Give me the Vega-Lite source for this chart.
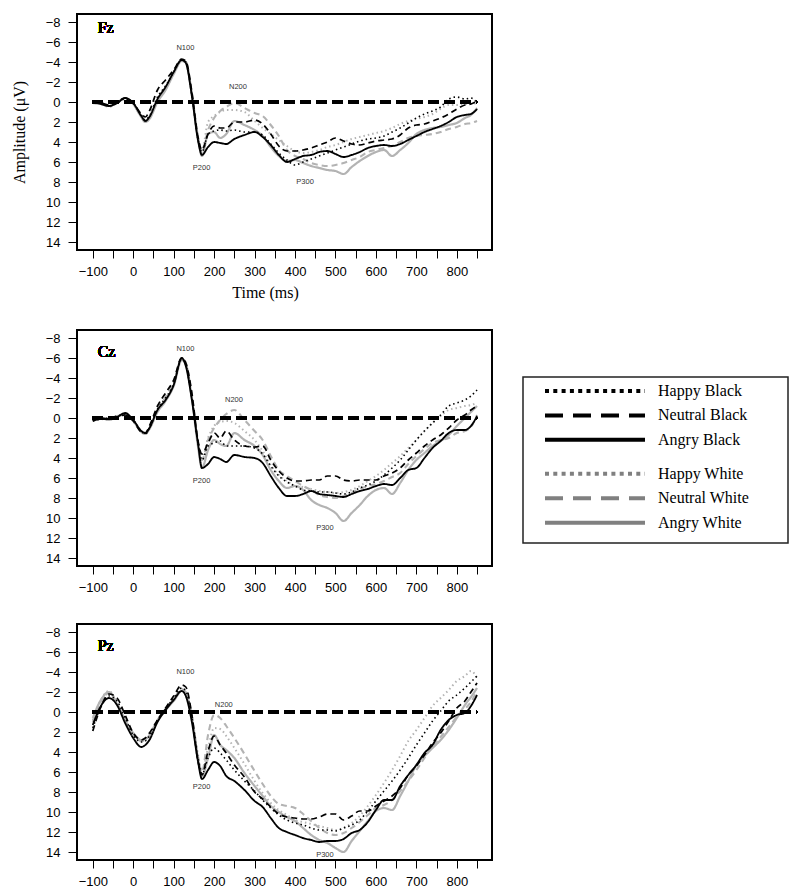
{
"$schema":"https://vega.github.io/schema/vega-lite/v6.json",
"background":"white",
"padding":{"left":10,"top":13,"right":5,"bottom":5},
"config":{
"view":{"stroke":"#000","strokeWidth":2},
"axis":{"domain":false,"grid":false,"tickColor":"#000","tickWidth":1,"labelFont":"Liberation Sans","labelFontSize":13,"labelColor":"#000","titleFont":"Liberation Serif","titleFontSize":16,"titleFontWeight":"normal","titleColor":"#000"},
"axisX":{"tickSize":8,"labelPadding":7},
"axisY":{"tickSize":9,"labelPadding":8}
},
"datasets":{
"Fz":[
{"c":"HW","t":-100,"v":0},{"c":"HW","t":-80,"v":0.2},{"c":"HW","t":-60,"v":0.5},{"c":"HW","t":-40,"v":0.1},{"c":"HW","t":-20,"v":-0.4},{"c":"HW","t":0,"v":0.2},{"c":"HW","t":20,"v":1.4},{"c":"HW","t":30,"v":1.9},{"c":"HW","t":40,"v":1.6},{"c":"HW","t":60,"v":-0.2},{"c":"HW","t":80,"v":-1.3},{"c":"HW","t":100,"v":-2.9},{"c":"HW","t":120,"v":-4.1},{"c":"HW","t":130,"v":-3.9},{"c":"HW","t":145,"v":-0.6},{"c":"HW","t":160,"v":3.4},{"c":"HW","t":170,"v":4.8},{"c":"HW","t":185,"v":2.0},{"c":"HW","t":200,"v":1.4},{"c":"HW","t":215,"v":1.0},{"c":"HW","t":230,"v":0.8},{"c":"HW","t":250,"v":0.8},{"c":"HW","t":275,"v":1.0},{"c":"HW","t":300,"v":1.9},{"c":"HW","t":320,"v":2.6},{"c":"HW","t":340,"v":3.2},{"c":"HW","t":360,"v":3.8},{"c":"HW","t":380,"v":4.4},{"c":"HW","t":400,"v":4.9},{"c":"HW","t":420,"v":5.1},{"c":"HW","t":440,"v":5.0},{"c":"HW","t":460,"v":4.8},{"c":"HW","t":480,"v":4.5},{"c":"HW","t":500,"v":4.3},{"c":"HW","t":520,"v":4.0},{"c":"HW","t":540,"v":3.7},{"c":"HW","t":560,"v":3.5},{"c":"HW","t":580,"v":3.3},{"c":"HW","t":600,"v":3.1},{"c":"HW","t":620,"v":2.9},{"c":"HW","t":640,"v":2.6},{"c":"HW","t":660,"v":2.2},{"c":"HW","t":680,"v":1.9},{"c":"HW","t":700,"v":1.7},{"c":"HW","t":720,"v":1.5},{"c":"HW","t":740,"v":1.2},{"c":"HW","t":760,"v":0.7},{"c":"HW","t":780,"v":0.3},{"c":"HW","t":800,"v":0.3},{"c":"HW","t":820,"v":0.2},{"c":"HW","t":835,"v":0.2},{"c":"HW","t":850,"v":0.1},
{"c":"NW","t":-100,"v":0.1},{"c":"NW","t":-80,"v":0.2},{"c":"NW","t":-60,"v":0.4},{"c":"NW","t":-40,"v":0.1},{"c":"NW","t":-20,"v":-0.4},{"c":"NW","t":0,"v":0.2},{"c":"NW","t":20,"v":1.5},{"c":"NW","t":30,"v":2.0},{"c":"NW","t":40,"v":1.6},{"c":"NW","t":60,"v":-0.2},{"c":"NW","t":80,"v":-1.3},{"c":"NW","t":100,"v":-2.9},{"c":"NW","t":120,"v":-4.2},{"c":"NW","t":130,"v":-4.0},{"c":"NW","t":145,"v":-0.7},{"c":"NW","t":160,"v":3.6},{"c":"NW","t":170,"v":5.0},{"c":"NW","t":185,"v":2.8},{"c":"NW","t":200,"v":1.6},{"c":"NW","t":215,"v":0.9},{"c":"NW","t":230,"v":0.5},{"c":"NW","t":250,"v":0.1},{"c":"NW","t":275,"v":0.6},{"c":"NW","t":300,"v":1.1},{"c":"NW","t":320,"v":1.4},{"c":"NW","t":340,"v":2.3},{"c":"NW","t":360,"v":3.4},{"c":"NW","t":380,"v":4.8},{"c":"NW","t":400,"v":5.4},{"c":"NW","t":420,"v":5.7},{"c":"NW","t":440,"v":6.1},{"c":"NW","t":460,"v":6.3},{"c":"NW","t":480,"v":6.4},{"c":"NW","t":500,"v":6.3},{"c":"NW","t":520,"v":6.1},{"c":"NW","t":540,"v":5.8},{"c":"NW","t":560,"v":5.5},{"c":"NW","t":580,"v":5.0},{"c":"NW","t":600,"v":4.8},{"c":"NW","t":620,"v":4.6},{"c":"NW","t":640,"v":4.4},{"c":"NW","t":660,"v":4.0},{"c":"NW","t":680,"v":3.6},{"c":"NW","t":700,"v":3.4},{"c":"NW","t":720,"v":3.3},{"c":"NW","t":740,"v":3.2},{"c":"NW","t":760,"v":3.0},{"c":"NW","t":780,"v":2.7},{"c":"NW","t":800,"v":2.5},{"c":"NW","t":820,"v":2.2},{"c":"NW","t":835,"v":2.1},{"c":"NW","t":850,"v":1.9},
{"c":"AW","t":-100,"v":0.1},{"c":"AW","t":-80,"v":0.2},{"c":"AW","t":-60,"v":0.4},{"c":"AW","t":-40,"v":0.1},{"c":"AW","t":-20,"v":-0.4},{"c":"AW","t":0,"v":0.2},{"c":"AW","t":20,"v":1.5},{"c":"AW","t":30,"v":2.0},{"c":"AW","t":40,"v":1.7},{"c":"AW","t":60,"v":0.0},{"c":"AW","t":80,"v":-1.2},{"c":"AW","t":100,"v":-2.8},{"c":"AW","t":120,"v":-4.1},{"c":"AW","t":130,"v":-4.0},{"c":"AW","t":145,"v":-0.8},{"c":"AW","t":160,"v":3.5},{"c":"AW","t":170,"v":5.4},{"c":"AW","t":185,"v":3.2},{"c":"AW","t":200,"v":3.0},{"c":"AW","t":215,"v":3.6},{"c":"AW","t":230,"v":3.2},{"c":"AW","t":250,"v":1.9},{"c":"AW","t":275,"v":2.3},{"c":"AW","t":300,"v":2.8},{"c":"AW","t":320,"v":3.4},{"c":"AW","t":340,"v":4.5},{"c":"AW","t":360,"v":5.4},{"c":"AW","t":380,"v":5.9},{"c":"AW","t":400,"v":5.8},{"c":"AW","t":420,"v":6.1},{"c":"AW","t":440,"v":6.4},{"c":"AW","t":460,"v":6.6},{"c":"AW","t":480,"v":6.8},{"c":"AW","t":500,"v":6.9},{"c":"AW","t":520,"v":7.2},{"c":"AW","t":540,"v":6.5},{"c":"AW","t":560,"v":5.9},{"c":"AW","t":580,"v":5.4},{"c":"AW","t":600,"v":5.0},{"c":"AW","t":620,"v":4.8},{"c":"AW","t":640,"v":5.4},{"c":"AW","t":660,"v":4.8},{"c":"AW","t":680,"v":4.1},{"c":"AW","t":700,"v":3.2},{"c":"AW","t":720,"v":2.8},{"c":"AW","t":740,"v":2.6},{"c":"AW","t":760,"v":2.5},{"c":"AW","t":780,"v":2.3},{"c":"AW","t":800,"v":2.1},{"c":"AW","t":820,"v":1.6},{"c":"AW","t":835,"v":1.3},{"c":"AW","t":850,"v":0.6},
{"c":"HB","t":-100,"v":0.1},{"c":"HB","t":-80,"v":0.1},{"c":"HB","t":-60,"v":0.4},{"c":"HB","t":-40,"v":0.1},{"c":"HB","t":-20,"v":-0.3},{"c":"HB","t":0,"v":0.1},{"c":"HB","t":20,"v":1.3},{"c":"HB","t":30,"v":1.8},{"c":"HB","t":40,"v":1.4},{"c":"HB","t":60,"v":-0.5},{"c":"HB","t":80,"v":-1.6},{"c":"HB","t":100,"v":-3.0},{"c":"HB","t":120,"v":-4.2},{"c":"HB","t":130,"v":-4.0},{"c":"HB","t":145,"v":-0.7},{"c":"HB","t":160,"v":3.7},{"c":"HB","t":170,"v":5.0},{"c":"HB","t":185,"v":3.2},{"c":"HB","t":200,"v":2.9},{"c":"HB","t":215,"v":2.8},{"c":"HB","t":230,"v":2.9},{"c":"HB","t":250,"v":2.8},{"c":"HB","t":275,"v":3.0},{"c":"HB","t":300,"v":3.0},{"c":"HB","t":320,"v":3.3},{"c":"HB","t":340,"v":4.2},{"c":"HB","t":360,"v":5.1},{"c":"HB","t":380,"v":5.8},{"c":"HB","t":400,"v":6.3},{"c":"HB","t":420,"v":6.0},{"c":"HB","t":440,"v":5.7},{"c":"HB","t":460,"v":5.4},{"c":"HB","t":480,"v":5.1},{"c":"HB","t":500,"v":4.8},{"c":"HB","t":520,"v":4.5},{"c":"HB","t":540,"v":4.2},{"c":"HB","t":560,"v":3.9},{"c":"HB","t":580,"v":3.7},{"c":"HB","t":600,"v":3.6},{"c":"HB","t":620,"v":3.4},{"c":"HB","t":640,"v":3.0},{"c":"HB","t":660,"v":2.6},{"c":"HB","t":680,"v":2.1},{"c":"HB","t":700,"v":1.6},{"c":"HB","t":720,"v":1.2},{"c":"HB","t":740,"v":0.9},{"c":"HB","t":760,"v":0.5},{"c":"HB","t":780,"v":-0.3},{"c":"HB","t":800,"v":-0.5},{"c":"HB","t":820,"v":-0.3},{"c":"HB","t":835,"v":-0.4},{"c":"HB","t":850,"v":0.1},
{"c":"NB","t":-100,"v":0},{"c":"NB","t":-80,"v":0.1},{"c":"NB","t":-60,"v":0.3},{"c":"NB","t":-40,"v":0},{"c":"NB","t":-20,"v":-0.4},{"c":"NB","t":0,"v":0.1},{"c":"NB","t":20,"v":1.2},{"c":"NB","t":30,"v":1.5},{"c":"NB","t":40,"v":0.9},{"c":"NB","t":60,"v":-1.2},{"c":"NB","t":80,"v":-2.2},{"c":"NB","t":100,"v":-3.2},{"c":"NB","t":120,"v":-4.3},{"c":"NB","t":130,"v":-4.1},{"c":"NB","t":145,"v":-1.0},{"c":"NB","t":160,"v":3.5},{"c":"NB","t":170,"v":4.8},{"c":"NB","t":185,"v":3.2},{"c":"NB","t":200,"v":2.4},{"c":"NB","t":215,"v":2.6},{"c":"NB","t":230,"v":2.6},{"c":"NB","t":250,"v":2.0},{"c":"NB","t":275,"v":2.0},{"c":"NB","t":300,"v":1.8},{"c":"NB","t":320,"v":2.2},{"c":"NB","t":340,"v":3.2},{"c":"NB","t":360,"v":4.4},{"c":"NB","t":380,"v":4.9},{"c":"NB","t":400,"v":4.9},{"c":"NB","t":420,"v":4.8},{"c":"NB","t":440,"v":4.6},{"c":"NB","t":460,"v":4.3},{"c":"NB","t":480,"v":4.0},{"c":"NB","t":500,"v":3.6},{"c":"NB","t":520,"v":3.9},{"c":"NB","t":540,"v":4.2},{"c":"NB","t":560,"v":4.3},{"c":"NB","t":580,"v":4.1},{"c":"NB","t":600,"v":3.9},{"c":"NB","t":620,"v":3.8},{"c":"NB","t":640,"v":3.7},{"c":"NB","t":660,"v":3.3},{"c":"NB","t":680,"v":2.6},{"c":"NB","t":700,"v":2.3},{"c":"NB","t":720,"v":2.2},{"c":"NB","t":740,"v":1.9},{"c":"NB","t":760,"v":1.6},{"c":"NB","t":780,"v":1.2},{"c":"NB","t":800,"v":0.7},{"c":"NB","t":820,"v":0.3},{"c":"NB","t":835,"v":0.2},{"c":"NB","t":850,"v":-0.1},
{"c":"AB","t":-100,"v":0},{"c":"AB","t":-80,"v":0.2},{"c":"AB","t":-60,"v":0.4},{"c":"AB","t":-40,"v":0.1},{"c":"AB","t":-20,"v":-0.4},{"c":"AB","t":0,"v":0.1},{"c":"AB","t":20,"v":1.4},{"c":"AB","t":30,"v":1.9},{"c":"AB","t":40,"v":1.5},{"c":"AB","t":60,"v":-0.3},{"c":"AB","t":80,"v":-1.5},{"c":"AB","t":100,"v":-3.0},{"c":"AB","t":120,"v":-4.2},{"c":"AB","t":130,"v":-3.9},{"c":"AB","t":145,"v":-0.6},{"c":"AB","t":160,"v":3.8},{"c":"AB","t":170,"v":5.3},{"c":"AB","t":185,"v":4.5},{"c":"AB","t":200,"v":4.0},{"c":"AB","t":215,"v":4.1},{"c":"AB","t":230,"v":4.2},{"c":"AB","t":250,"v":3.7},{"c":"AB","t":275,"v":3.3},{"c":"AB","t":300,"v":3.0},{"c":"AB","t":320,"v":3.5},{"c":"AB","t":340,"v":4.3},{"c":"AB","t":360,"v":5.3},{"c":"AB","t":380,"v":6.0},{"c":"AB","t":400,"v":5.7},{"c":"AB","t":420,"v":5.4},{"c":"AB","t":440,"v":5.3},{"c":"AB","t":460,"v":5.0},{"c":"AB","t":480,"v":4.9},{"c":"AB","t":500,"v":5.2},{"c":"AB","t":520,"v":5.5},{"c":"AB","t":540,"v":5.3},{"c":"AB","t":560,"v":5.0},{"c":"AB","t":580,"v":4.6},{"c":"AB","t":600,"v":4.4},{"c":"AB","t":620,"v":4.3},{"c":"AB","t":640,"v":4.4},{"c":"AB","t":660,"v":4.2},{"c":"AB","t":680,"v":3.8},{"c":"AB","t":700,"v":3.4},{"c":"AB","t":720,"v":3.0},{"c":"AB","t":740,"v":2.7},{"c":"AB","t":760,"v":2.4},{"c":"AB","t":780,"v":2.0},{"c":"AB","t":800,"v":1.5},{"c":"AB","t":820,"v":1.3},{"c":"AB","t":835,"v":1.2},{"c":"AB","t":850,"v":0.7}
],
"Cz":[
{"c":"HW","t":-100,"v":0.2},{"c":"HW","t":-80,"v":0.1},{"c":"HW","t":-60,"v":0.2},{"c":"HW","t":-40,"v":-0.1},{"c":"HW","t":-20,"v":-0.3},{"c":"HW","t":0,"v":0.3},{"c":"HW","t":20,"v":1.4},{"c":"HW","t":30,"v":1.6},{"c":"HW","t":40,"v":1.1},{"c":"HW","t":60,"v":-0.7},{"c":"HW","t":80,"v":-1.8},{"c":"HW","t":100,"v":-3.3},{"c":"HW","t":120,"v":-5.9},{"c":"HW","t":130,"v":-5.4},{"c":"HW","t":145,"v":-2.0},{"c":"HW","t":160,"v":2.2},{"c":"HW","t":170,"v":4.0},{"c":"HW","t":185,"v":2.0},{"c":"HW","t":200,"v":0.8},{"c":"HW","t":215,"v":0.4},{"c":"HW","t":230,"v":0.3},{"c":"HW","t":250,"v":0.5},{"c":"HW","t":275,"v":1.3},{"c":"HW","t":300,"v":2.2},{"c":"HW","t":320,"v":3.3},{"c":"HW","t":340,"v":4.7},{"c":"HW","t":360,"v":5.7},{"c":"HW","t":380,"v":6.3},{"c":"HW","t":400,"v":6.8},{"c":"HW","t":420,"v":6.9},{"c":"HW","t":440,"v":7.1},{"c":"HW","t":460,"v":7.3},{"c":"HW","t":480,"v":7.4},{"c":"HW","t":500,"v":7.5},{"c":"HW","t":520,"v":7.4},{"c":"HW","t":540,"v":7.2},{"c":"HW","t":560,"v":6.8},{"c":"HW","t":580,"v":6.3},{"c":"HW","t":600,"v":5.8},{"c":"HW","t":620,"v":5.2},{"c":"HW","t":640,"v":4.5},{"c":"HW","t":660,"v":3.8},{"c":"HW","t":680,"v":3.0},{"c":"HW","t":700,"v":2.2},{"c":"HW","t":720,"v":1.3},{"c":"HW","t":740,"v":0.5},{"c":"HW","t":760,"v":-0.2},{"c":"HW","t":780,"v":-0.8},{"c":"HW","t":800,"v":-1.0},{"c":"HW","t":820,"v":-1.2},{"c":"HW","t":835,"v":-1.3},{"c":"HW","t":850,"v":-1.5},
{"c":"NW","t":-100,"v":0.1},{"c":"NW","t":-80,"v":0.0},{"c":"NW","t":-60,"v":0.1},{"c":"NW","t":-40,"v":-0.1},{"c":"NW","t":-20,"v":-0.4},{"c":"NW","t":0,"v":0.2},{"c":"NW","t":20,"v":1.3},{"c":"NW","t":30,"v":1.5},{"c":"NW","t":40,"v":1.0},{"c":"NW","t":60,"v":-0.9},{"c":"NW","t":80,"v":-2.1},{"c":"NW","t":100,"v":-3.6},{"c":"NW","t":120,"v":-6.0},{"c":"NW","t":130,"v":-5.5},{"c":"NW","t":145,"v":-2.2},{"c":"NW","t":160,"v":2.3},{"c":"NW","t":170,"v":4.2},{"c":"NW","t":185,"v":2.2},{"c":"NW","t":200,"v":1.0},{"c":"NW","t":215,"v":0.2},{"c":"NW","t":230,"v":-0.4},{"c":"NW","t":250,"v":-0.8},{"c":"NW","t":275,"v":0.2},{"c":"NW","t":300,"v":1.3},{"c":"NW","t":320,"v":2.2},{"c":"NW","t":340,"v":3.8},{"c":"NW","t":360,"v":5.2},{"c":"NW","t":380,"v":5.8},{"c":"NW","t":400,"v":6.3},{"c":"NW","t":420,"v":6.8},{"c":"NW","t":440,"v":7.2},{"c":"NW","t":460,"v":7.7},{"c":"NW","t":480,"v":7.9},{"c":"NW","t":500,"v":8.0},{"c":"NW","t":520,"v":7.8},{"c":"NW","t":540,"v":7.5},{"c":"NW","t":560,"v":7.1},{"c":"NW","t":580,"v":6.8},{"c":"NW","t":600,"v":6.6},{"c":"NW","t":620,"v":6.3},{"c":"NW","t":640,"v":5.9},{"c":"NW","t":660,"v":5.5},{"c":"NW","t":680,"v":4.6},{"c":"NW","t":700,"v":3.8},{"c":"NW","t":720,"v":3.1},{"c":"NW","t":740,"v":2.5},{"c":"NW","t":760,"v":2.2},{"c":"NW","t":780,"v":2.0},{"c":"NW","t":800,"v":1.5},{"c":"NW","t":820,"v":1.3},{"c":"NW","t":835,"v":0.9},{"c":"NW","t":850,"v":-0.3},
{"c":"AW","t":-100,"v":0.2},{"c":"AW","t":-80,"v":0.0},{"c":"AW","t":-60,"v":0.2},{"c":"AW","t":-40,"v":-0.2},{"c":"AW","t":-20,"v":-0.3},{"c":"AW","t":0,"v":0.3},{"c":"AW","t":20,"v":1.4},{"c":"AW","t":30,"v":1.6},{"c":"AW","t":40,"v":1.1},{"c":"AW","t":60,"v":-0.6},{"c":"AW","t":80,"v":-1.7},{"c":"AW","t":100,"v":-3.2},{"c":"AW","t":120,"v":-5.8},{"c":"AW","t":130,"v":-5.4},{"c":"AW","t":145,"v":-2.0},{"c":"AW","t":160,"v":2.8},{"c":"AW","t":170,"v":5.0},{"c":"AW","t":185,"v":3.2},{"c":"AW","t":200,"v":2.2},{"c":"AW","t":215,"v":2.6},{"c":"AW","t":230,"v":2.8},{"c":"AW","t":250,"v":1.5},{"c":"AW","t":275,"v":2.2},{"c":"AW","t":300,"v":2.8},{"c":"AW","t":320,"v":3.7},{"c":"AW","t":340,"v":5.2},{"c":"AW","t":360,"v":6.3},{"c":"AW","t":380,"v":7.0},{"c":"AW","t":400,"v":6.8},{"c":"AW","t":420,"v":7.2},{"c":"AW","t":440,"v":8.2},{"c":"AW","t":460,"v":8.7},{"c":"AW","t":480,"v":9.0},{"c":"AW","t":500,"v":9.5},{"c":"AW","t":520,"v":10.3},{"c":"AW","t":540,"v":9.5},{"c":"AW","t":560,"v":8.7},{"c":"AW","t":580,"v":7.8},{"c":"AW","t":600,"v":7.2},{"c":"AW","t":620,"v":7.0},{"c":"AW","t":640,"v":7.6},{"c":"AW","t":660,"v":6.5},{"c":"AW","t":680,"v":5.2},{"c":"AW","t":700,"v":4.2},{"c":"AW","t":720,"v":3.5},{"c":"AW","t":740,"v":2.8},{"c":"AW","t":760,"v":2.3},{"c":"AW","t":780,"v":1.7},{"c":"AW","t":800,"v":0.8},{"c":"AW","t":820,"v":0.0},{"c":"AW","t":835,"v":-0.6},{"c":"AW","t":850,"v":-1.2},
{"c":"HB","t":-100,"v":0.3},{"c":"HB","t":-80,"v":0.1},{"c":"HB","t":-60,"v":0.0},{"c":"HB","t":-40,"v":-0.2},{"c":"HB","t":-20,"v":-0.4},{"c":"HB","t":0,"v":0.2},{"c":"HB","t":20,"v":1.3},{"c":"HB","t":30,"v":1.6},{"c":"HB","t":40,"v":1.0},{"c":"HB","t":60,"v":-0.9},{"c":"HB","t":80,"v":-2.0},{"c":"HB","t":100,"v":-3.4},{"c":"HB","t":120,"v":-5.9},{"c":"HB","t":130,"v":-5.3},{"c":"HB","t":145,"v":-2.0},{"c":"HB","t":160,"v":2.4},{"c":"HB","t":170,"v":4.2},{"c":"HB","t":185,"v":2.8},{"c":"HB","t":200,"v":2.5},{"c":"HB","t":215,"v":2.3},{"c":"HB","t":230,"v":2.8},{"c":"HB","t":250,"v":2.8},{"c":"HB","t":275,"v":2.8},{"c":"HB","t":300,"v":3.0},{"c":"HB","t":320,"v":3.6},{"c":"HB","t":340,"v":4.8},{"c":"HB","t":360,"v":5.8},{"c":"HB","t":380,"v":6.4},{"c":"HB","t":400,"v":6.8},{"c":"HB","t":420,"v":7.2},{"c":"HB","t":440,"v":7.3},{"c":"HB","t":460,"v":7.4},{"c":"HB","t":480,"v":7.4},{"c":"HB","t":500,"v":7.5},{"c":"HB","t":520,"v":7.6},{"c":"HB","t":540,"v":7.4},{"c":"HB","t":560,"v":7.0},{"c":"HB","t":580,"v":6.7},{"c":"HB","t":600,"v":6.3},{"c":"HB","t":620,"v":5.7},{"c":"HB","t":640,"v":5.0},{"c":"HB","t":660,"v":4.2},{"c":"HB","t":680,"v":3.2},{"c":"HB","t":700,"v":2.2},{"c":"HB","t":720,"v":1.3},{"c":"HB","t":740,"v":0.5},{"c":"HB","t":760,"v":-0.3},{"c":"HB","t":780,"v":-1.2},{"c":"HB","t":800,"v":-1.5},{"c":"HB","t":820,"v":-1.8},{"c":"HB","t":835,"v":-2.2},{"c":"HB","t":850,"v":-2.8},
{"c":"NB","t":-100,"v":0.2},{"c":"NB","t":-80,"v":0.0},{"c":"NB","t":-60,"v":0.1},{"c":"NB","t":-40,"v":-0.1},{"c":"NB","t":-20,"v":-0.3},{"c":"NB","t":0,"v":0.3},{"c":"NB","t":20,"v":1.4},{"c":"NB","t":30,"v":1.5},{"c":"NB","t":40,"v":0.8},{"c":"NB","t":60,"v":-1.2},{"c":"NB","t":80,"v":-2.5},{"c":"NB","t":100,"v":-3.8},{"c":"NB","t":120,"v":-6.0},{"c":"NB","t":130,"v":-5.5},{"c":"NB","t":145,"v":-2.5},{"c":"NB","t":160,"v":2.3},{"c":"NB","t":170,"v":3.6},{"c":"NB","t":185,"v":2.5},{"c":"NB","t":200,"v":1.5},{"c":"NB","t":215,"v":2.0},{"c":"NB","t":230,"v":1.3},{"c":"NB","t":250,"v":2.2},{"c":"NB","t":275,"v":2.8},{"c":"NB","t":300,"v":2.9},{"c":"NB","t":320,"v":2.8},{"c":"NB","t":340,"v":4.2},{"c":"NB","t":360,"v":5.3},{"c":"NB","t":380,"v":6.0},{"c":"NB","t":400,"v":6.3},{"c":"NB","t":420,"v":6.3},{"c":"NB","t":440,"v":6.2},{"c":"NB","t":460,"v":6.2},{"c":"NB","t":480,"v":5.8},{"c":"NB","t":500,"v":5.8},{"c":"NB","t":520,"v":6.2},{"c":"NB","t":540,"v":6.3},{"c":"NB","t":560,"v":6.2},{"c":"NB","t":580,"v":6.2},{"c":"NB","t":600,"v":6.2},{"c":"NB","t":620,"v":5.8},{"c":"NB","t":640,"v":5.5},{"c":"NB","t":660,"v":5.0},{"c":"NB","t":680,"v":4.2},{"c":"NB","t":700,"v":3.5},{"c":"NB","t":720,"v":2.8},{"c":"NB","t":740,"v":2.2},{"c":"NB","t":760,"v":1.7},{"c":"NB","t":780,"v":1.0},{"c":"NB","t":800,"v":0.2},{"c":"NB","t":820,"v":-0.3},{"c":"NB","t":835,"v":-0.8},{"c":"NB","t":850,"v":-1.2},
{"c":"AB","t":-100,"v":0.3},{"c":"AB","t":-80,"v":0.1},{"c":"AB","t":-60,"v":0.1},{"c":"AB","t":-40,"v":-0.1},{"c":"AB","t":-20,"v":-0.5},{"c":"AB","t":0,"v":0.2},{"c":"AB","t":20,"v":1.3},{"c":"AB","t":30,"v":1.5},{"c":"AB","t":40,"v":1.0},{"c":"AB","t":60,"v":-0.8},{"c":"AB","t":80,"v":-1.8},{"c":"AB","t":100,"v":-3.3},{"c":"AB","t":120,"v":-6.0},{"c":"AB","t":130,"v":-5.2},{"c":"AB","t":145,"v":-1.8},{"c":"AB","t":160,"v":2.5},{"c":"AB","t":170,"v":5.0},{"c":"AB","t":185,"v":4.6},{"c":"AB","t":200,"v":3.9},{"c":"AB","t":215,"v":4.1},{"c":"AB","t":230,"v":4.4},{"c":"AB","t":250,"v":3.7},{"c":"AB","t":275,"v":3.9},{"c":"AB","t":300,"v":4.0},{"c":"AB","t":320,"v":4.5},{"c":"AB","t":340,"v":5.8},{"c":"AB","t":360,"v":7.0},{"c":"AB","t":380,"v":7.8},{"c":"AB","t":400,"v":7.8},{"c":"AB","t":420,"v":7.6},{"c":"AB","t":440,"v":7.3},{"c":"AB","t":460,"v":7.6},{"c":"AB","t":480,"v":7.7},{"c":"AB","t":500,"v":7.8},{"c":"AB","t":520,"v":7.9},{"c":"AB","t":540,"v":7.6},{"c":"AB","t":560,"v":7.3},{"c":"AB","t":580,"v":7.1},{"c":"AB","t":600,"v":6.8},{"c":"AB","t":620,"v":6.6},{"c":"AB","t":640,"v":6.7},{"c":"AB","t":660,"v":6.0},{"c":"AB","t":680,"v":5.2},{"c":"AB","t":700,"v":5.0},{"c":"AB","t":720,"v":4.0},{"c":"AB","t":740,"v":3.0},{"c":"AB","t":760,"v":2.3},{"c":"AB","t":780,"v":1.5},{"c":"AB","t":800,"v":1.2},{"c":"AB","t":820,"v":1.2},{"c":"AB","t":835,"v":0.8},{"c":"AB","t":850,"v":-0.2}
],
"Pz":[
{"c":"HW","t":-100,"v":0.8},{"c":"HW","t":-80,"v":-1.2},{"c":"HW","t":-60,"v":-2.1},{"c":"HW","t":-40,"v":-0.9},{"c":"HW","t":-20,"v":0.8},{"c":"HW","t":0,"v":2.2},{"c":"HW","t":20,"v":2.9},{"c":"HW","t":30,"v":2.8},{"c":"HW","t":40,"v":2.4},{"c":"HW","t":60,"v":0.9},{"c":"HW","t":80,"v":-0.2},{"c":"HW","t":100,"v":-1.2},{"c":"HW","t":120,"v":-2.2},{"c":"HW","t":130,"v":-1.9},{"c":"HW","t":145,"v":0.5},{"c":"HW","t":160,"v":4.2},{"c":"HW","t":170,"v":5.9},{"c":"HW","t":185,"v":3.6},{"c":"HW","t":200,"v":1.6},{"c":"HW","t":215,"v":1.7},{"c":"HW","t":230,"v":2.4},{"c":"HW","t":250,"v":3.6},{"c":"HW","t":275,"v":5.2},{"c":"HW","t":300,"v":6.9},{"c":"HW","t":320,"v":8.1},{"c":"HW","t":340,"v":9.1},{"c":"HW","t":360,"v":9.8},{"c":"HW","t":380,"v":10.3},{"c":"HW","t":400,"v":10.8},{"c":"HW","t":420,"v":11.0},{"c":"HW","t":440,"v":11.2},{"c":"HW","t":460,"v":11.4},{"c":"HW","t":480,"v":11.6},{"c":"HW","t":500,"v":11.8},{"c":"HW","t":520,"v":11.6},{"c":"HW","t":540,"v":11.1},{"c":"HW","t":560,"v":10.4},{"c":"HW","t":580,"v":9.4},{"c":"HW","t":600,"v":8.3},{"c":"HW","t":620,"v":7.1},{"c":"HW","t":640,"v":5.8},{"c":"HW","t":660,"v":4.4},{"c":"HW","t":680,"v":2.9},{"c":"HW","t":700,"v":1.8},{"c":"HW","t":720,"v":0.6},{"c":"HW","t":740,"v":-0.6},{"c":"HW","t":760,"v":-1.4},{"c":"HW","t":780,"v":-2.2},{"c":"HW","t":800,"v":-3.1},{"c":"HW","t":820,"v":-3.6},{"c":"HW","t":835,"v":-4.1},{"c":"HW","t":850,"v":-3.4},
{"c":"NW","t":-100,"v":1.0},{"c":"NW","t":-80,"v":-1.0},{"c":"NW","t":-60,"v":-1.9},{"c":"NW","t":-40,"v":-0.9},{"c":"NW","t":-20,"v":0.8},{"c":"NW","t":0,"v":2.2},{"c":"NW","t":20,"v":2.9},{"c":"NW","t":30,"v":2.8},{"c":"NW","t":40,"v":2.3},{"c":"NW","t":60,"v":0.8},{"c":"NW","t":80,"v":-0.3},{"c":"NW","t":100,"v":-1.3},{"c":"NW","t":120,"v":-2.3},{"c":"NW","t":130,"v":-2.0},{"c":"NW","t":145,"v":0.4},{"c":"NW","t":160,"v":4.4},{"c":"NW","t":170,"v":6.0},{"c":"NW","t":185,"v":2.3},{"c":"NW","t":200,"v":0.3},{"c":"NW","t":215,"v":0.6},{"c":"NW","t":230,"v":1.4},{"c":"NW","t":250,"v":2.6},{"c":"NW","t":275,"v":4.2},{"c":"NW","t":300,"v":5.9},{"c":"NW","t":320,"v":7.2},{"c":"NW","t":340,"v":8.4},{"c":"NW","t":360,"v":9.2},{"c":"NW","t":380,"v":9.4},{"c":"NW","t":400,"v":9.6},{"c":"NW","t":420,"v":10.2},{"c":"NW","t":440,"v":10.9},{"c":"NW","t":460,"v":11.6},{"c":"NW","t":480,"v":12.1},{"c":"NW","t":500,"v":12.3},{"c":"NW","t":520,"v":12.1},{"c":"NW","t":540,"v":11.6},{"c":"NW","t":560,"v":11.0},{"c":"NW","t":580,"v":10.3},{"c":"NW","t":600,"v":9.6},{"c":"NW","t":620,"v":9.3},{"c":"NW","t":640,"v":8.8},{"c":"NW","t":660,"v":7.9},{"c":"NW","t":680,"v":6.9},{"c":"NW","t":700,"v":5.8},{"c":"NW","t":720,"v":4.6},{"c":"NW","t":740,"v":3.4},{"c":"NW","t":760,"v":2.5},{"c":"NW","t":780,"v":1.5},{"c":"NW","t":800,"v":0.5},{"c":"NW","t":820,"v":-0.3},{"c":"NW","t":835,"v":-1.0},{"c":"NW","t":850,"v":-2.1},
{"c":"AW","t":-100,"v":0.6},{"c":"AW","t":-80,"v":-1.2},{"c":"AW","t":-60,"v":-2.0},{"c":"AW","t":-40,"v":-0.8},{"c":"AW","t":-20,"v":0.8},{"c":"AW","t":0,"v":2.1},{"c":"AW","t":20,"v":2.8},{"c":"AW","t":30,"v":2.7},{"c":"AW","t":40,"v":2.4},{"c":"AW","t":60,"v":0.9},{"c":"AW","t":80,"v":-0.2},{"c":"AW","t":100,"v":-1.1},{"c":"AW","t":120,"v":-2.1},{"c":"AW","t":130,"v":-1.8},{"c":"AW","t":145,"v":0.6},{"c":"AW","t":160,"v":4.6},{"c":"AW","t":170,"v":6.4},{"c":"AW","t":185,"v":4.6},{"c":"AW","t":200,"v":2.3},{"c":"AW","t":215,"v":3.3},{"c":"AW","t":230,"v":3.8},{"c":"AW","t":250,"v":4.6},{"c":"AW","t":275,"v":6.1},{"c":"AW","t":300,"v":7.4},{"c":"AW","t":320,"v":8.4},{"c":"AW","t":340,"v":9.4},{"c":"AW","t":360,"v":10.0},{"c":"AW","t":380,"v":10.5},{"c":"AW","t":400,"v":10.9},{"c":"AW","t":420,"v":11.6},{"c":"AW","t":440,"v":12.3},{"c":"AW","t":460,"v":12.8},{"c":"AW","t":480,"v":13.1},{"c":"AW","t":500,"v":13.6},{"c":"AW","t":520,"v":14.0},{"c":"AW","t":540,"v":12.9},{"c":"AW","t":560,"v":11.9},{"c":"AW","t":580,"v":10.9},{"c":"AW","t":600,"v":9.9},{"c":"AW","t":620,"v":9.6},{"c":"AW","t":640,"v":9.8},{"c":"AW","t":660,"v":8.4},{"c":"AW","t":680,"v":6.9},{"c":"AW","t":700,"v":5.3},{"c":"AW","t":720,"v":4.4},{"c":"AW","t":740,"v":3.6},{"c":"AW","t":760,"v":2.8},{"c":"AW","t":780,"v":1.8},{"c":"AW","t":800,"v":0.6},{"c":"AW","t":820,"v":-0.7},{"c":"AW","t":835,"v":-1.5},{"c":"AW","t":850,"v":-2.4},
{"c":"HB","t":-100,"v":1.6},{"c":"HB","t":-80,"v":-0.5},{"c":"HB","t":-60,"v":-1.6},{"c":"HB","t":-40,"v":-1.1},{"c":"HB","t":-20,"v":0.6},{"c":"HB","t":0,"v":2.3},{"c":"HB","t":20,"v":3.0},{"c":"HB","t":30,"v":2.9},{"c":"HB","t":40,"v":2.4},{"c":"HB","t":60,"v":0.8},{"c":"HB","t":80,"v":-0.3},{"c":"HB","t":100,"v":-1.4},{"c":"HB","t":120,"v":-2.4},{"c":"HB","t":130,"v":-2.1},{"c":"HB","t":145,"v":0.5},{"c":"HB","t":160,"v":4.6},{"c":"HB","t":170,"v":6.2},{"c":"HB","t":185,"v":4.6},{"c":"HB","t":200,"v":3.6},{"c":"HB","t":215,"v":4.1},{"c":"HB","t":230,"v":4.8},{"c":"HB","t":250,"v":5.8},{"c":"HB","t":275,"v":6.9},{"c":"HB","t":300,"v":7.9},{"c":"HB","t":320,"v":8.8},{"c":"HB","t":340,"v":9.6},{"c":"HB","t":360,"v":10.3},{"c":"HB","t":380,"v":10.8},{"c":"HB","t":400,"v":11.1},{"c":"HB","t":420,"v":11.3},{"c":"HB","t":440,"v":11.6},{"c":"HB","t":460,"v":11.8},{"c":"HB","t":480,"v":11.8},{"c":"HB","t":500,"v":11.9},{"c":"HB","t":520,"v":11.6},{"c":"HB","t":540,"v":11.3},{"c":"HB","t":560,"v":10.8},{"c":"HB","t":580,"v":9.9},{"c":"HB","t":600,"v":8.9},{"c":"HB","t":620,"v":7.9},{"c":"HB","t":640,"v":6.9},{"c":"HB","t":660,"v":5.8},{"c":"HB","t":680,"v":4.6},{"c":"HB","t":700,"v":3.3},{"c":"HB","t":720,"v":2.1},{"c":"HB","t":740,"v":0.9},{"c":"HB","t":760,"v":-0.1},{"c":"HB","t":780,"v":-1.1},{"c":"HB","t":800,"v":-1.7},{"c":"HB","t":820,"v":-2.4},{"c":"HB","t":835,"v":-3.0},{"c":"HB","t":850,"v":-3.6},
{"c":"NB","t":-100,"v":1.9},{"c":"NB","t":-80,"v":-0.5},{"c":"NB","t":-60,"v":-1.8},{"c":"NB","t":-40,"v":-1.4},{"c":"NB","t":-20,"v":0.3},{"c":"NB","t":0,"v":2.1},{"c":"NB","t":20,"v":2.8},{"c":"NB","t":30,"v":2.6},{"c":"NB","t":40,"v":2.1},{"c":"NB","t":60,"v":0.8},{"c":"NB","t":80,"v":-0.4},{"c":"NB","t":100,"v":-1.6},{"c":"NB","t":120,"v":-2.7},{"c":"NB","t":130,"v":-2.5},{"c":"NB","t":145,"v":0.3},{"c":"NB","t":160,"v":4.9},{"c":"NB","t":170,"v":6.3},{"c":"NB","t":185,"v":3.9},{"c":"NB","t":200,"v":2.4},{"c":"NB","t":215,"v":3.3},{"c":"NB","t":230,"v":4.1},{"c":"NB","t":250,"v":5.3},{"c":"NB","t":275,"v":6.5},{"c":"NB","t":300,"v":8.0},{"c":"NB","t":320,"v":8.7},{"c":"NB","t":340,"v":9.5},{"c":"NB","t":360,"v":10.2},{"c":"NB","t":380,"v":10.5},{"c":"NB","t":400,"v":10.6},{"c":"NB","t":420,"v":10.7},{"c":"NB","t":440,"v":10.7},{"c":"NB","t":460,"v":10.5},{"c":"NB","t":480,"v":10.2},{"c":"NB","t":500,"v":10.2},{"c":"NB","t":520,"v":10.8},{"c":"NB","t":540,"v":10.4},{"c":"NB","t":560,"v":9.9},{"c":"NB","t":580,"v":9.9},{"c":"NB","t":600,"v":9.4},{"c":"NB","t":620,"v":8.9},{"c":"NB","t":640,"v":8.4},{"c":"NB","t":660,"v":7.6},{"c":"NB","t":680,"v":6.3},{"c":"NB","t":700,"v":5.4},{"c":"NB","t":720,"v":4.3},{"c":"NB","t":740,"v":3.1},{"c":"NB","t":760,"v":2.1},{"c":"NB","t":780,"v":0.9},{"c":"NB","t":800,"v":-0.4},{"c":"NB","t":820,"v":-1.1},{"c":"NB","t":835,"v":-2.0},{"c":"NB","t":850,"v":-2.9},
{"c":"AB","t":-100,"v":1.3},{"c":"AB","t":-80,"v":-0.6},{"c":"AB","t":-60,"v":-1.4},{"c":"AB","t":-40,"v":-0.7},{"c":"AB","t":-20,"v":1.1},{"c":"AB","t":0,"v":2.6},{"c":"AB","t":20,"v":3.5},{"c":"AB","t":30,"v":3.3},{"c":"AB","t":40,"v":2.8},{"c":"AB","t":60,"v":1.0},{"c":"AB","t":80,"v":-0.2},{"c":"AB","t":100,"v":-1.2},{"c":"AB","t":120,"v":-2.1},{"c":"AB","t":130,"v":-1.6},{"c":"AB","t":145,"v":1.0},{"c":"AB","t":160,"v":4.9},{"c":"AB","t":170,"v":6.7},{"c":"AB","t":185,"v":5.8},{"c":"AB","t":200,"v":5.0},{"c":"AB","t":215,"v":5.4},{"c":"AB","t":230,"v":6.4},{"c":"AB","t":250,"v":6.9},{"c":"AB","t":275,"v":7.8},{"c":"AB","t":300,"v":8.9},{"c":"AB","t":320,"v":9.5},{"c":"AB","t":340,"v":10.6},{"c":"AB","t":360,"v":11.6},{"c":"AB","t":380,"v":12.0},{"c":"AB","t":400,"v":12.3},{"c":"AB","t":420,"v":12.6},{"c":"AB","t":440,"v":12.8},{"c":"AB","t":460,"v":13.0},{"c":"AB","t":480,"v":12.9},{"c":"AB","t":500,"v":12.9},{"c":"AB","t":520,"v":12.7},{"c":"AB","t":540,"v":12.1},{"c":"AB","t":560,"v":11.8},{"c":"AB","t":580,"v":11.0},{"c":"AB","t":600,"v":9.8},{"c":"AB","t":620,"v":8.8},{"c":"AB","t":640,"v":8.8},{"c":"AB","t":660,"v":7.4},{"c":"AB","t":680,"v":6.3},{"c":"AB","t":700,"v":5.3},{"c":"AB","t":720,"v":4.1},{"c":"AB","t":740,"v":3.3},{"c":"AB","t":760,"v":1.8},{"c":"AB","t":780,"v":0.8},{"c":"AB","t":800,"v":0.3},{"c":"AB","t":820,"v":0.1},{"c":"AB","t":835,"v":-0.6},{"c":"AB","t":850,"v":-1.7}
],
"peaks":[
{"e":"Fz","lab":"N100","t":129,"v":-5.4},{"e":"Fz","lab":"N200","t":259,"v":-1.5},{"e":"Fz","lab":"P200","t":169,"v":6.6},{"e":"Fz","lab":"P300","t":425,"v":8.0},
{"e":"Cz","lab":"N100","t":129,"v":-6.9},{"e":"Cz","lab":"N200","t":249,"v":-1.8},{"e":"Cz","lab":"P200","t":169,"v":6.3},{"e":"Cz","lab":"P300","t":474,"v":11.0},
{"e":"Pz","lab":"N100","t":129,"v":-4.0},{"e":"Pz","lab":"N200","t":224,"v":-0.7},{"e":"Pz","lab":"P200","t":169,"v":7.5},{"e":"Pz","lab":"P300","t":474,"v":14.3}
],
"legend":[
{"c":"Happy Black","g":"Black","em":"Happy"},{"c":"Neutral Black","g":"Black","em":"Neutral"},{"c":"Angry Black","g":"Black","em":"Angry"},
{"c":"Happy White","g":"White","em":"Happy"},{"c":"Neutral White","g":"White","em":"Neutral"},{"c":"Angry White","g":"White","em":"Angry"}
]
},
"columns":2,
"align":{"row":"none","column":"each"},
"center":false,
"spacing":{"row":28,"column":29},
"resolve":{"scale":{"x":"independent","y":"independent","color":"independent","strokeDash":"independent","strokeWidth":"independent","yOffset":"independent"}},
"concat":[
{
"width":415,"height":236,
"data":{"name":"Fz"},
"encoding":{
"x":{"field":"t","type":"quantitative","scale":{"domain":[-139,887],"nice":false},"axis":{"values":[-100,-50,0,50,100,150,200,250,300,350,400,450,500,550,600,650,700,750,800,850],"labelExpr":"datum.value % 100 == 0 ? datum.label : ''","title":"Time (ms)","titlePadding":6,"titleX":188}},
"y":{"field":"v","type":"quantitative","scale":{"domain":[-8.8,14.8],"reverse":true,"nice":false},"axis":{"values":[-8,-6,-4,-2,0,2,4,6,8,10,12,14],"title":"Amplitude (\u03bcV)","titlePadding":18}}
},
"layer":[
{"mark":{"type":"line","interpolate":"monotone"},
"encoding":{
"color":{"field":"c","type":"nominal","scale":{"domain":["HB","NB","AB","HW","NW","AW"],"range":["#000000","#000000","#000000","#b3b3b3","#b3b3b3","#b3b3b3"]},"legend":null},
"strokeDash":{"field":"c","type":"nominal","scale":{"domain":["HB","NB","AB","HW","NW","AW"],"range":[[1.5,3],[6,4],[1,0],[1.5,3],[6,4],[1,0]]},"legend":null},
"strokeWidth":{"field":"c","type":"ordinal","scale":{"domain":["HB","NB","AB","HW","NW","AW"],"range":[1.6,2.2,1.6,1.6,1.8,1.6]},"legend":null}
}},
{"mark":{"type":"rule","strokeDash":[10,6],"strokeWidth":3,"color":"#000"},
"encoding":{"x":{"datum":-100,"type":"quantitative"},"x2":{"datum":850},"y":{"datum":0,"type":"quantitative"}}},
{"data":{"name":"peaks"},"transform":[{"filter":"datum.e == 'Fz'"}],
"mark":{"type":"text","font":"Liberation Sans","fontSize":7.5,"color":"#333","align":"center","baseline":"middle"},
"encoding":{"text":{"field":"lab"}}},
{"mark":{"type":"text","font":"Liberation Serif","fontSize":16,"color":"#000","align":"left","baseline":"alphabetic"},
"encoding":{"x":{"datum":-88,"type":"quantitative"},"y":{"datum":-6.9,"type":"quantitative"},"text":{"value":"Fz"}}}
]
},
{
"width":10,"height":10,
"view":{"stroke":null},
"data":{"values":[]},
"mark":{"type":"point","opacity":0},
"encoding":{}
},
{
"width":415,"height":236,
"data":{"name":"Cz"},
"encoding":{
"x":{"field":"t","type":"quantitative","scale":{"domain":[-139,887],"nice":false},"axis":{"values":[-100,-50,0,50,100,150,200,250,300,350,400,450,500,550,600,650,700,750,800,850],"labelExpr":"datum.value % 100 == 0 ? datum.label : ''","title":null}},
"y":{"field":"v","type":"quantitative","scale":{"domain":[-8.8,14.8],"reverse":true,"nice":false},"axis":{"values":[-8,-6,-4,-2,0,2,4,6,8,10,12,14],"title":null}}
},
"layer":[
{"mark":{"type":"line","interpolate":"monotone"},
"encoding":{
"color":{"field":"c","type":"nominal","scale":{"domain":["HB","NB","AB","HW","NW","AW"],"range":["#000000","#000000","#000000","#b3b3b3","#b3b3b3","#b3b3b3"]},"legend":null},
"strokeDash":{"field":"c","type":"nominal","scale":{"domain":["HB","NB","AB","HW","NW","AW"],"range":[[1.5,3],[6,4],[1,0],[1.5,3],[6,4],[1,0]]},"legend":null},
"strokeWidth":{"field":"c","type":"ordinal","scale":{"domain":["HB","NB","AB","HW","NW","AW"],"range":[1.6,2.2,1.6,1.6,1.8,1.6]},"legend":null}
}},
{"mark":{"type":"rule","strokeDash":[10,6],"strokeWidth":3,"color":"#000"},
"encoding":{"x":{"datum":-100,"type":"quantitative"},"x2":{"datum":850},"y":{"datum":0,"type":"quantitative"}}},
{"data":{"name":"peaks"},"transform":[{"filter":"datum.e == 'Cz'"}],
"mark":{"type":"text","font":"Liberation Sans","fontSize":7.5,"color":"#333","align":"center","baseline":"middle"},
"encoding":{"text":{"field":"lab"}}},
{"mark":{"type":"text","font":"Liberation Serif","fontSize":16,"color":"#000","align":"left","baseline":"alphabetic"},
"encoding":{"x":{"datum":-88,"type":"quantitative"},"y":{"datum":-6.1,"type":"quantitative"},"text":{"value":"Cz"}}}
]
},
{
"width":265,"height":166,
"title":{"text":" ","fontSize":1,"offset":46},
"view":{"stroke":"#222","strokeWidth":1.5},
"data":{"name":"legend"},
"layer":[
{"mark":{"type":"rule","strokeWidth":4},
"encoding":{
"x":{"datum":0,"type":"quantitative","scale":{"domain":[-0.22,2.43],"nice":false,"zero":false},"axis":null},
"x2":{"datum":1},
"y":{"field":"g","type":"nominal","scale":{"domain":["Black","White"],"paddingInner":0.115,"paddingOuter":0.06,"align":0.18},"axis":null},
"yOffset":{"field":"em","type":"nominal","scale":{"domain":["Happy","Neutral","Angry"],"paddingInner":0,"paddingOuter":0}},
"color":{"field":"c","type":"nominal","scale":{"domain":["Happy Black","Neutral Black","Angry Black","Happy White","Neutral White","Angry White"],"range":["#000000","#000000","#000000","#808080","#808080","#808080"]},"legend":null},
"strokeDash":{"field":"c","type":"nominal","scale":{"domain":["Happy Black","Neutral Black","Angry Black","Happy White","Neutral White","Angry White"],"range":[[4,4.3],[18,10],[1,0],[4,4.3],[18,10],[1,0]]},"legend":null}
}},
{"mark":{"type":"text","font":"Liberation Serif","fontSize":16,"color":"#000","align":"left","baseline":"middle"},
"encoding":{
"x":{"datum":1.13,"type":"quantitative","axis":null},
"y":{"field":"g","type":"nominal","axis":null},
"yOffset":{"field":"em","type":"nominal"},
"text":{"field":"c"}
}}
]
},
{
"width":415,"height":236,
"data":{"name":"Pz"},
"encoding":{
"x":{"field":"t","type":"quantitative","scale":{"domain":[-139,887],"nice":false},"axis":{"values":[-100,-50,0,50,100,150,200,250,300,350,400,450,500,550,600,650,700,750,800,850],"labelExpr":"datum.value % 100 == 0 ? datum.label : ''","title":null}},
"y":{"field":"v","type":"quantitative","scale":{"domain":[-8.8,14.8],"reverse":true,"nice":false},"axis":{"values":[-8,-6,-4,-2,0,2,4,6,8,10,12,14],"title":null}}
},
"layer":[
{"mark":{"type":"line","interpolate":"monotone"},
"encoding":{
"color":{"field":"c","type":"nominal","scale":{"domain":["HB","NB","AB","HW","NW","AW"],"range":["#000000","#000000","#000000","#b3b3b3","#b3b3b3","#b3b3b3"]},"legend":null},
"strokeDash":{"field":"c","type":"nominal","scale":{"domain":["HB","NB","AB","HW","NW","AW"],"range":[[1.5,3],[6,4],[1,0],[1.5,3],[6,4],[1,0]]},"legend":null},
"strokeWidth":{"field":"c","type":"ordinal","scale":{"domain":["HB","NB","AB","HW","NW","AW"],"range":[1.6,2.2,1.6,1.6,1.8,1.6]},"legend":null}
}},
{"mark":{"type":"rule","strokeDash":[10,6],"strokeWidth":3,"color":"#000"},
"encoding":{"x":{"datum":-100,"type":"quantitative"},"x2":{"datum":850},"y":{"datum":0,"type":"quantitative"}}},
{"data":{"name":"peaks"},"transform":[{"filter":"datum.e == 'Pz'"}],
"mark":{"type":"text","font":"Liberation Sans","fontSize":7.5,"color":"#333","align":"center","baseline":"middle"},
"encoding":{"text":{"field":"lab"}}},
{"mark":{"type":"text","font":"Liberation Serif","fontSize":16,"color":"#000","align":"left","baseline":"alphabetic"},
"encoding":{"x":{"datum":-88,"type":"quantitative"},"y":{"datum":-6.1,"type":"quantitative"},"text":{"value":"Pz"}}}
]
}
]
}
